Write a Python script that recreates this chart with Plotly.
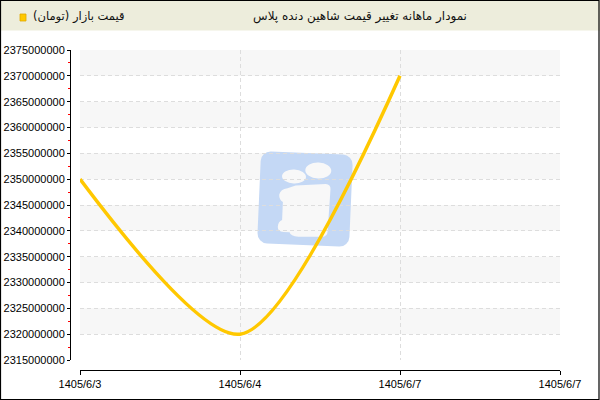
import base64
import plotly.graph_objects as go

# data
dates = ["1405/6/3", "1405/6/4", "1405/6/7", "1405/6/7"]
prices = [2350000000, 2320000000, 2370000000, None]
y_min, y_max, y_step = 2315000000, 2375000000, 5000000

title_text = "نمودار ماهانه تغییر قیمت شاهین دنده پلاس"
legend_text = "قیمت بازار (تومان)"
line_color = "#FFC800"

W, H = 600, 400
L, R, T, B = 70, 40, 50, 30
pw, ph = W - L - R, H - T - B
# plot area in pixels
X0, X1, Y0, Y1 = 80, 560, 50, 360


def px_x(px):
    return (px - L) / pw


def px_y(py):
    return (H - B - py) / ph


x_idx = list(range(len(dates)))

fig = go.Figure()
fig.add_trace(go.Scatter(
    x=x_idx, y=prices, mode="lines",
    line=dict(color=line_color, width=3.5, shape="spline", smoothing=0.8),
    name=legend_text, showlegend=False, hoverinfo="skip"))

# alternating bands between ticks
ticks = list(range(y_min, y_max + 1, y_step))
shapes = []
for j in range(1, len(ticks) - 1, 2):
    shapes.append(dict(type="rect", xref="x domain", yref="y", x0=0, x1=1,
                       y0=ticks[j], y1=ticks[j + 1], fillcolor="#F7F7F7",
                       line=dict(width=0), layer="below"))

# header bar + frame
shapes.append(dict(type="rect", xref="paper", yref="paper",
                   x0=px_x(0), x1=px_x(600), y0=px_y(30.5), y1=px_y(0),
                   fillcolor="#EDEDDC", line=dict(width=0), layer="below"))
shapes.append(dict(type="rect", xref="paper", yref="paper",
                   x0=px_x(0.5), x1=px_x(599), y0=px_y(399.5), y1=px_y(0.5),
                   line=dict(color="black", width=1.2)))
# legend marker
shapes.append(dict(type="rect", xref="paper", yref="paper",
                   x0=px_x(20), x1=px_x(26), y0=px_y(21), y1=px_y(14),
                   fillcolor=line_color, line=dict(color="#E0A800", width=0.8)))

# watermark logo
svg = """<svg xmlns='http://www.w3.org/2000/svg' viewBox='0 0 100 100' width='100' height='100'>
<g transform='rotate(2.5 50 50)'>
<rect x='4' y='3' width='92' height='92' rx='10' ry='10' fill='#C4D8F5'/>
<ellipse cx='38' cy='27' rx='12' ry='7' fill='#F8F8F8'/>
<ellipse cx='62' cy='20' rx='13' ry='8' fill='#F8F8F8'/>
<path d='M40 36 L70 33 Q75 33 75 38 L74 80 Q74 86 68 86 L45 87 Q37 87 36 83 L30 83 Q24 83 24 78 Q24 73 28 71 L28 53 Q24 51 24 46 Q25 40 32 39 Z' fill='#F8F8F8'/>
</g></svg>"""
logo = "data:image/svg+xml;base64," + base64.b64encode(svg.encode()).decode()

fig.update_layout(
    width=W, height=H,
    margin=dict(l=L, r=R, t=T, b=B),
    paper_bgcolor="white", plot_bgcolor="white",
    font=dict(family="Liberation Sans, Arial", size=11, color="black"),
    shapes=shapes,
    images=[dict(source=logo, xref="x domain", yref="y domain",
                 x=(255 - X0) / (X1 - X0), y=(Y1 - 150) / (Y1 - Y0),
                 sizex=100 / (X1 - X0), sizey=100 / (Y1 - Y0),
                 xanchor="left", yanchor="top", sizing="stretch",
                 layer="below", opacity=1)],
    annotations=[
        dict(text=title_text, xref="paper", yref="paper", x=px_x(360), y=px_y(16),
             xanchor="center", yanchor="middle", showarrow=False,
             font=dict(family="Tahoma, DejaVu Sans", size=12, color="#111")),
        dict(text=legend_text, xref="paper", yref="paper", x=px_x(31), y=px_y(16),
             xanchor="left", yanchor="middle", showarrow=False,
             font=dict(family="Tahoma, DejaVu Sans", size=11.5, color="#111")),
    ],
    xaxis=dict(
        domain=[px_x(X0), 1], range=[0, len(dates) - 1],
        anchor="free", position=0, automargin=False,
        tickvals=x_idx, ticktext=dates,
        showline=True, linecolor="black", linewidth=1,
        ticks="outside", ticklen=4, tickcolor="black",
        showgrid=True, gridcolor="#DDDDDD", griddash="4px,3px", gridwidth=1,
        zeroline=False, fixedrange=True),
    yaxis=dict(
        domain=[px_y(Y1), 1], range=[y_min, y_max],
        anchor="free", position=0, automargin=False,
        dtick=y_step, tick0=y_min, tickformat="d",
        showline=True, linecolor="black", linewidth=1,
        ticks="outside", ticklen=3, tickcolor="black",
        minor=dict(dtick=y_step / 2, ticks="outside", ticklen=2,
                   tickcolor="red", showgrid=False),
        showgrid=True, gridcolor="#DDDDDD", griddash="4px,3px", gridwidth=1,
        zeroline=False, fixedrange=True),
)

# page has a default 8px body margin; drop it so the chart sits at 0,0
fig.write_html("out.html", config={"displayModeBar": False},
               post_script="document.body.style.margin='0';")
